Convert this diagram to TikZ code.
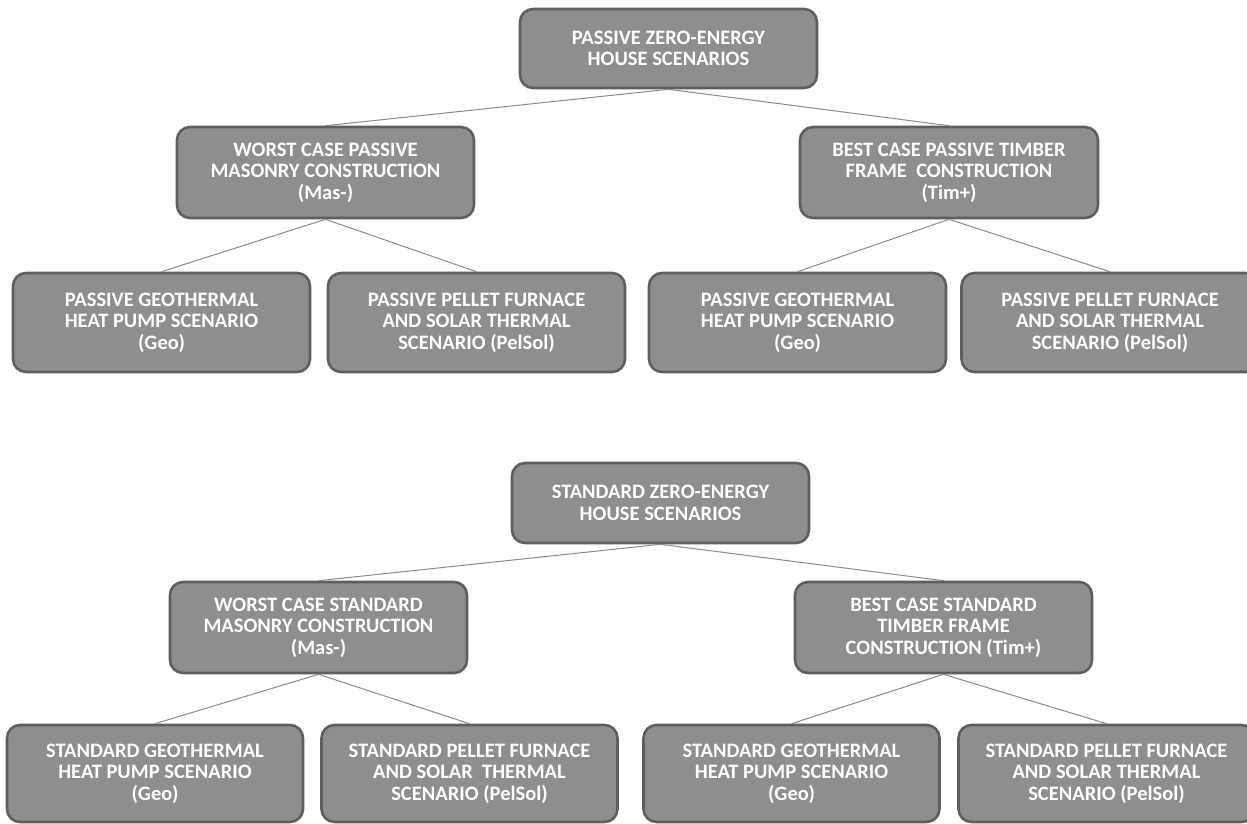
\documentclass[tikz,border=0pt]{standalone}
\usepackage{fontspec}
\setmainfont{Carlito}
\definecolor{boxfill}{HTML}{8E8E8E}
\definecolor{boxline}{HTML}{5E5E5E}
\definecolor{linkc}{HTML}{8A8A8A}
\tikzset{
  box/.style={draw=boxline, line width=2.6pt, fill=boxfill, rounded corners=13pt,
    text=white, font=\bfseries\fontsize{20.5}{21.5}\selectfont, align=center, inner sep=0pt},
  link/.style={draw=linkc, line width=1pt}
}
\newcommand{\bx}[6]{\node[box, minimum width=#4pt, minimum height=#5pt] (#1) at (#2,#3) {#6};}
\begin{document}
\begin{tikzpicture}[x=1pt,y=-1pt]
\useasboundingbox (0,0) rectangle (1247,823);
% passive
\bx{pr}{668.5}{48.5}{297}{79}{PASSIVE ZERO-ENERGY\\HOUSE SCENARIOS}
\bx{pl}{325.5}{172.5}{297}{91}{WORST CASE PASSIVE\\MASONRY CONSTRUCTION\\(Mas-)}
\bx{pt}{949}{172.5}{298}{91}{BEST CASE PASSIVE TIMBER\\FRAME \ CONSTRUCTION\\(Tim+)}
\bx{pa}{161.5}{322.5}{297}{99}{PASSIVE GEOTHERMAL\\HEAT PUMP SCENARIO\\(Geo)}
\bx{pb}{476.5}{322.5}{297}{99}{PASSIVE PELLET FURNACE\\AND SOLAR THERMAL\\SCENARIO (PelSol)}
\bx{pc}{797.5}{322.5}{297}{99}{PASSIVE GEOTHERMAL\\HEAT PUMP SCENARIO\\(Geo)}
\bx{pd}{1110}{322.5}{297}{99}{PASSIVE PELLET FURNACE\\AND SOLAR THERMAL\\SCENARIO (PelSol)}
% standard
\bx{sr}{660.5}{503}{297}{80}{STANDARD ZERO-ENERGY\\HOUSE SCENARIOS}
\bx{sl}{318.5}{627.5}{297}{91}{WORST CASE STANDARD\\MASONRY CONSTRUCTION\\(Mas-)}
\bx{st}{943.5}{627.5}{297}{91}{BEST CASE STANDARD\\TIMBER FRAME\\CONSTRUCTION (Tim+)}
\bx{sa}{155}{773.5}{296}{97}{STANDARD GEOTHERMAL\\HEAT PUMP SCENARIO\\(Geo)}
\bx{sb}{469.5}{773.5}{296}{97}{STANDARD PELLET FURNACE\\AND SOLAR \ THERMAL\\SCENARIO (PelSol)}
\bx{sc}{791.5}{773.5}{296}{97}{STANDARD GEOTHERMAL\\HEAT PUMP SCENARIO\\(Geo)}
\bx{sd}{1106.5}{773.5}{296}{97}{STANDARD PELLET FURNACE\\AND SOLAR THERMAL\\SCENARIO (PelSol)}
% links
\draw[link] (pr.south) -- (pl.north);
\draw[link] (pr.south) -- (pt.north);
\draw[link] (pl.south) -- (pa.north);
\draw[link] (pl.south) -- (pb.north);
\draw[link] (pt.south) -- (pc.north);
\draw[link] (pt.south) -- (pd.north);
\draw[link] (sr.south) -- (sl.north);
\draw[link] (sr.south) -- (st.north);
\draw[link] (sl.south) -- (sa.north);
\draw[link] (sl.south) -- (sb.north);
\draw[link] (st.south) -- (sc.north);
\draw[link] (st.south) -- (sd.north);
\end{tikzpicture}
\end{document}
